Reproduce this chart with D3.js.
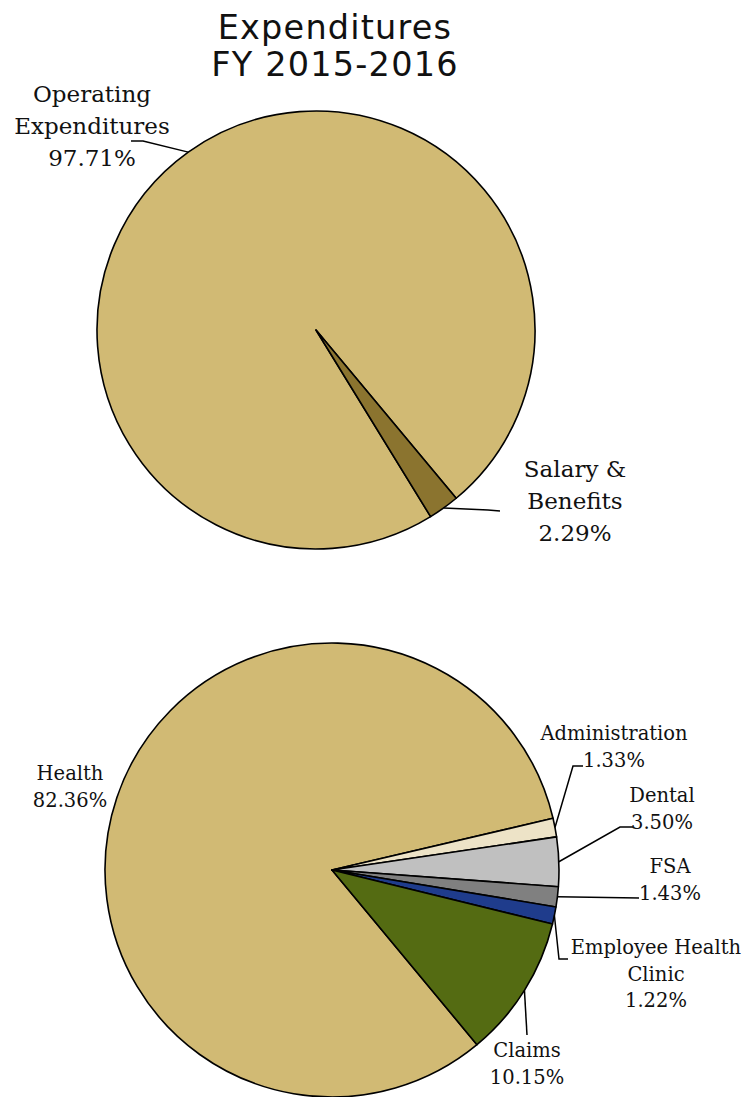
<!DOCTYPE html>
<html><head><meta charset="utf-8">
<script src="https://cdnjs.cloudflare.com/ajax/libs/d3/7.8.5/d3.min.js"></script>
<style>body{margin:0;background:#fff}svg{display:block}</style>
</head><body>
<script>
// ---- data ----
const titleLines = ["Expenditures", "FY 2015-2016"];
const topCategories = ["Operating\nExpenditures", "Salary &\nBenefits"];
const topValues = [97.71, 2.29];
const topColors = ["#D1BA74", "#8B742F"];
const bottomCategories = ["Health", "Administration", "Dental", "FSA", "Employee Health\nClinic", "Claims"];
const bottomValues = [82.36, 1.33, 3.50, 1.43, 1.22, 10.15];
const bottomColors = ["#D1BA74", "#EDE3C7", "#C0C0C0", "#808080", "#1F3C8C", "#546B12"];

// ---- layout ----
const W = 744, H = 1097;
const svg = d3.select("body").append("svg").attr("width", W).attr("height", H);
const deg = Math.PI / 180;

const title = svg.append("text")
  .attr("text-anchor", "middle")
  .attr("font-family", "'DejaVu Sans', sans-serif")
  .attr("font-size", 33.5).attr("letter-spacing", 1.2).attr("fill", "#111");
title.selectAll("tspan").data(titleLines).join("tspan")
  .attr("x", 335).attr("y", (d, i) => 39 + i * 37)
  .text(d => d);

function drawPie(cfg) {
  const g = svg.append("g").attr("transform", `translate(${cfg.cx},${cfg.cy})`);
  const pie = d3.pie().sort(null).value(d => d)
    .startAngle(cfg.start * deg).endAngle(cfg.start * deg + 2 * Math.PI);
  const arcs = pie(cfg.values);
  const arc = d3.arc().innerRadius(0).outerRadius(cfg.r);
  g.selectAll("path").data(arcs).join("path")
    .attr("d", arc)
    .attr("fill", (d, i) => cfg.colors[i])
    .attr("stroke", "#000").attr("stroke-width", 1.6).attr("stroke-linejoin", "round");

  arcs.forEach((a, i) => {
    const L = cfg.labels[i];
    const mid = (a.startAngle + a.endAngle) / 2;
    const px = cfg.cx + cfg.r * Math.sin(mid), py = cfg.cy - cfg.r * Math.cos(mid);
    if (L.leader) {
      const pts = [[px, py]].concat(L.leader);
      svg.append("path").attr("d", d3.line()(pts))
        .attr("fill", "none").attr("stroke", "#000").attr("stroke-width", 1.5);
    }
    const lines = cfg.names[i].split("\n").concat([d3.format(".2f")(cfg.values[i]) + "%"]);
    svg.append("g").selectAll("text").data(lines).join("text")
      .attr("x", L.x).attr("y", (d, j) => L.y + j * cfg.lh)
      .attr("text-anchor", "middle")
      .attr("font-family", "'DejaVu Serif', serif")
      .attr("font-size", cfg.fs).attr("fill", "#111")
      .text(d => d);
  });
}

drawPie({
  cx: 316, cy: 330, r: 219, start: 148.44 - 360,
  values: topValues, colors: topColors, names: topCategories,
  fs: 23, lh: 32,
  labels: [
    {x: 92, y: 102, leader: [[143, 141], [131, 141]]},
    {x: 575, y: 477, leader: [[488, 510], [500, 511]]}
  ]
});

drawPie({
  cx: 332, cy: 870, r: 227, start: 76.8 - 0.8236 * 360,
  values: bottomValues, colors: bottomColors, names: bottomCategories,
  fs: 19.5, lh: 26.5,
  labels: [
    {x: 70, y: 780},
    {x: 614, y: 740, leader: [[573, 766], [583, 766]]},
    {x: 662, y: 802, leader: [[620, 827], [633, 827]]},
    {x: 670, y: 873, leader: [[639, 898]]},
    {x: 656, y: 954, leader: [[559, 959], [568, 959]]},
    {x: 527, y: 1057, leader: [[527, 1035]]}
  ]
});
</script>
</body></html>
